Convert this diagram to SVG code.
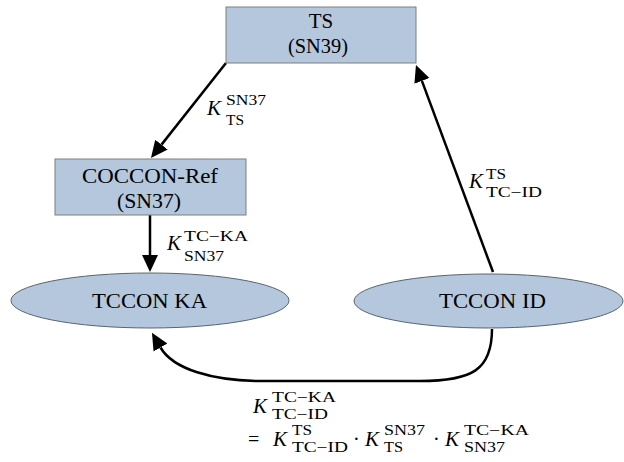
<svg xmlns="http://www.w3.org/2000/svg" width="624" height="462" viewBox="0 0 624 462">
<style>
.box{fill:#b4c7dc;stroke:#7f7f7f;stroke-width:1}
.ell{fill:#b4c7dc;stroke:#5a6470;stroke-width:1}
.lbl{font-family:"Liberation Serif","DejaVu Serif","Times New Roman",serif;font-size:21px;fill:#000;text-anchor:middle}
.edge{fill:none;stroke:#000;stroke-width:2.5}
.m{font-family:"Liberation Serif","DejaVu Serif","Times New Roman",serif;fill:#000}
.K{font-size:21px;font-style:italic}
.s{font-size:14px}
.op{font-size:20px}
</style>
<defs>
<marker id="ah" markerUnits="userSpaceOnUse" markerWidth="20" markerHeight="20" refX="0" refY="8" orient="auto" viewBox="0 0 20 16">
<path d="M0,0 L17,8 L0,16 z" fill="#000"/>
</marker>
</defs>
<g id="connectors">
<line class="edge" x1="226" y1="63" x2="161.5" y2="144.6" marker-end="url(#ah)"/>
<line class="edge" x1="150" y1="215" x2="150" y2="255" marker-end="url(#ah)"/>
<line class="edge" x1="493" y1="272" x2="421.9" y2="80.9" marker-end="url(#ah)"/>
<path class="edge" d="M492,329 C492,370 472,381 420,381 L262,381 C212,381 173,369 160.5,347.5" marker-end="url(#ah)"/>
</g>
<g id="node-ts">
<rect class="box" x="226" y="7" width="190" height="56"/>
<text class="lbl" x="321" y="28">TS</text>
<text class="lbl" x="318" y="53" textLength="60" lengthAdjust="spacingAndGlyphs">(SN39)</text>
</g>
<g id="node-coccon">
<rect class="box" x="55" y="159" width="191" height="56"/>
<text class="lbl" x="150" y="183" textLength="136" lengthAdjust="spacingAndGlyphs">COCCON-Ref</text>
<text class="lbl" x="149" y="208" textLength="64" lengthAdjust="spacingAndGlyphs">(SN37)</text>
</g>
<g id="node-tccon-ka">
<ellipse class="ell" cx="150" cy="300.5" rx="139" ry="27.5"/>
<text class="lbl" x="149.5" y="308" textLength="115" lengthAdjust="spacingAndGlyphs">TCCON KA</text>
</g>
<g id="node-tccon-id">
<ellipse class="ell" cx="488.5" cy="301" rx="134.5" ry="27"/>
<text class="lbl" x="492.5" y="308" textLength="107" lengthAdjust="spacingAndGlyphs">TCCON ID</text>
</g>
<g id="labels">
<text class="m"><tspan class="K" x="207" y="115">K</tspan><tspan class="s" x="226" y="105" textLength="40" lengthAdjust="spacingAndGlyphs">SN37</tspan><tspan class="s" x="226" y="125" textLength="18" lengthAdjust="spacingAndGlyphs">TS</tspan></text>
<text class="m"><tspan class="K" x="167" y="250">K</tspan><tspan class="s" x="184" y="241" textLength="64" lengthAdjust="spacingAndGlyphs">TC−KA</tspan><tspan class="s" x="184" y="261" textLength="40" lengthAdjust="spacingAndGlyphs">SN37</tspan></text>
<text class="m"><tspan class="K" x="469" y="188">K</tspan><tspan class="s" x="486" y="179" textLength="20" lengthAdjust="spacingAndGlyphs">TS</tspan><tspan class="s" x="486" y="197" textLength="56" lengthAdjust="spacingAndGlyphs">TC−ID</tspan></text>
<text class="m"><tspan class="K" x="253" y="413">K</tspan><tspan class="s" x="272" y="402" textLength="64" lengthAdjust="spacingAndGlyphs">TC−KA</tspan><tspan class="s" x="272" y="419" textLength="56" lengthAdjust="spacingAndGlyphs">TC−ID</tspan></text>
<text class="m"><tspan class="op" x="248" y="446">=</tspan><tspan class="K" x="273" y="446">K</tspan><tspan class="s" x="292" y="435" textLength="20" lengthAdjust="spacingAndGlyphs">TS</tspan><tspan class="s" x="292" y="452" textLength="56" lengthAdjust="spacingAndGlyphs">TC−ID</tspan><tspan class="op" x="353" y="446">·</tspan><tspan class="K" x="365" y="446">K</tspan><tspan class="s" x="384" y="435" textLength="41" lengthAdjust="spacingAndGlyphs">SN37</tspan><tspan class="s" x="384" y="452" textLength="19" lengthAdjust="spacingAndGlyphs">TS</tspan><tspan class="op" x="433" y="446">·</tspan><tspan class="K" x="445" y="446">K</tspan><tspan class="s" x="464" y="435" textLength="65" lengthAdjust="spacingAndGlyphs">TC−KA</tspan><tspan class="s" x="464" y="452" textLength="41" lengthAdjust="spacingAndGlyphs">SN37</tspan></text>
</g>
</svg>
